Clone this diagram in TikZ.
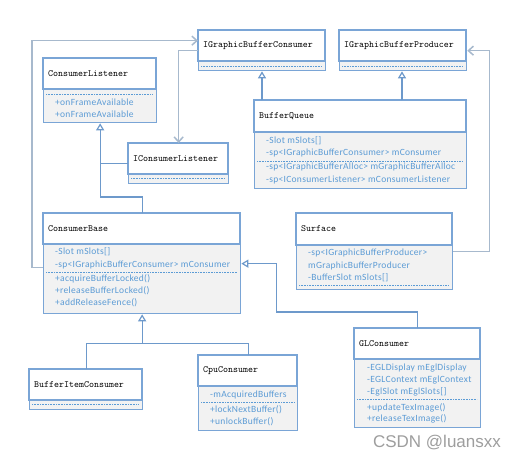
\documentclass[tikz,border=0pt]{standalone}
\usepackage{fontspec}
\newfontfamily\attrfont[LetterSpace=3]{Carlito}
\newfontfamily\wmfont{Liberation Sans}
\usetikzlibrary{arrows.meta}
\definecolor{boxc}{HTML}{7AA5D6}
\definecolor{attrbg}{HTML}{F2F2F2}
\definecolor{attrtx}{HTML}{5B9BD5}
\definecolor{assoc}{HTML}{A7B9CD}
\definecolor{inh}{HTML}{6D99CB}
\tikzset{
  boxline/.style={draw=boxc, line width=1.3pt},
  titletxt/.style={anchor=west, font=\ttfamily\fontsize{9.5}{11}\selectfont, inner sep=0pt},
  attr/.style={anchor=west, font=\attrfont\fontsize{9.5}{11}\selectfont, text=attrtx, inner sep=0pt},
  sepline/.style={draw=attrtx, line width=0.6pt, dash pattern=on 0.8pt off 0.8pt},
  inhedge/.style={draw=inh, line width=1.2pt},
  inhline/.style={inhedge, -{Triangle[open, length=7pt, width=8pt, fill=white]}},
  assocline/.style={draw=assoc, line width=1.5pt, -{Straight Barb[length=5pt, width=9pt]}},
}
\newcommand\umlbox[7]{%
  \node[boxline, fill=attrbg, anchor=north west, inner sep=0pt,
        minimum width={(#4-#2)*1pt}, minimum height={(#5-#3)*1pt}] (#1) at (#2,#3) {};
  \draw[boxline, fill=white] (#2,#3) rectangle (#4,#6);
  \node[titletxt] (#1-t) at (#2+5,{(#3+#6)/2}) {#7};
}
\newcommand\sepat[3]{\draw[sepline] (#1+3,#3) -- (#2-3,#3);}
\begin{document}
\begin{tikzpicture}[x=1pt,y=-1pt]
\useasboundingbox (0,0) rectangle (519,461);
\fill[white] (0,0) rectangle (519,461);

% IGraphicBufferConsumer
\umlbox{igc}{198}{30}{325}{70}{61}{IGraphicBufferConsumer}
\sepat{198}{325}{66}
% IGraphicBufferProducer
\umlbox{igp}{339}{30}{466}{70}{61}{IGraphicBufferProducer}
\sepat{339}{466}{66}
% ConsumerListener
\umlbox{cl}{43}{58}{156}{122}{89}{ConsumerListener}
\sepat{43}{156}{94}
\node[attr] (cl-a1) at (55,102) {+onFrameAvailable};
\node[attr] (cl-a2) at (55,114) {+onFrameAvailable};
% IConsumerListener
\umlbox{icl}{128}{143}{228}{183}{174}{IConsumerListener}
\sepat{128}{228}{178}
% BufferQueue
\umlbox{bq}{254}{100}{466}{188}{132}{BufferQueue}
\node[attr] (bq-a1) at (266,141) {-Slot mSlots[]};
\node[attr] (bq-a2) at (266,153) {-sp<IGraphicBufferConsumer> mConsumer};
\sepat{254}{466}{161}
\node[attr] (bq-a3) at (266,167) {-sp<IGraphicBufferAlloc> mGraphicBufferAlloc};
\node[attr] (bq-a4) at (266,180) {-sp<IConsumerListener> mConsumerListener};
% ConsumerBase
\umlbox{cb}{43}{213}{240}{313}{244}{ConsumerBase}
\node[attr] (cb-a1) at (55,252) {-Slot mSlots[]};
\node[attr] (cb-a2) at (55,265) {-sp<IGraphicBufferConsumer> mConsumer};
\sepat{43}{240}{272}
\node[attr] (cb-a3) at (55,279) {+acquireBufferLocked()};
\node[attr] (cb-a4) at (55,291) {+releaseBufferLocked()};
\node[attr] (cb-a5) at (55,303) {+addReleaseFence()};
% Surface
\umlbox{surf}{296}{213}{452}{289}{245}{Surface}
\node[attr] (surf-a1) at (308,253) {-sp<IGraphicBufferProducer>};
\node[attr] (surf-a2) at (308,266) {mGraphicBufferProducer};
\node[attr] (surf-a3) at (308,278) {-BufferSlot mSlots[]};
\sepat{296}{452}{285}
% GLConsumer
\umlbox{gl}{354}{328}{480}{427}{359}{GLConsumer}
\node[attr] (gl-a1) at (367,368) {-EGLDisplay mEglDisplay};
\node[attr] (gl-a2) at (367,380) {-EGLContext mEglContext};
\node[attr] (gl-a3) at (367,392) {-EglSlot mEglSlots[]};
\sepat{354}{480}{399}
\node[attr] (gl-a4) at (367,408) {+updateTexImage()};
\node[attr] (gl-a5) at (367,419) {+releaseTexImage()};
% BufferItemConsumer
\umlbox{bic}{29}{369}{142}{409}{400}{BufferItemConsumer}
\sepat{29}{142}{404}
% CpuConsumer
\umlbox{cpu}{198}{355}{297}{430}{386}{CpuConsumer}
\node[attr] (cpu-a1) at (210,395) {-mAcquiredBuffers};
\sepat{198}{297}{402}
\node[attr] (cpu-a2) at (210,410) {+lockNextBuffer()};
\node[attr] (cpu-a3) at (210,422) {+unlockBuffer()};

% connectors
\coordinate (c1) at ([xshift=8pt]bq.north west);
\draw[inhline] (c1) -- (c1 |- igc.south);
\coordinate (c2) at ([xshift=148pt]bq.north west);
\draw[inhline] (c2) -- (c2 |- igp.south);
\draw[inhline] (cb.north) -- ++(0,-16) -| (cl.south);
\draw[inhedge] (icl.west) -- (icl.west -| cl.south);
\draw[assocline] (igc.west) -| (icl.north);
\draw[assocline] ([yshift=-4pt]cb.west) -- ++(-11,0) |- ([yshift=10pt]igc.west);
\draw[assocline] (surf.east) -- ++(36,0) |- (igp.east);
\draw[inhline] (gl.north) -- ++(0,-16) -- ++(-141,0) |- (cb.east);
\coordinate (j) at ([yshift=-29pt]cb.south);
\draw[inhline] (bic.north) |- (j) -- (cb.south);
\draw[inhedge] (cpu.north) |- (j);

\node[font=\wmfont\fontsize{17}{20}\selectfont, text=black!38, inner sep=0pt] (wm) at (437,443) {CSDN @luansxx};
\end{tikzpicture}
\end{document}
